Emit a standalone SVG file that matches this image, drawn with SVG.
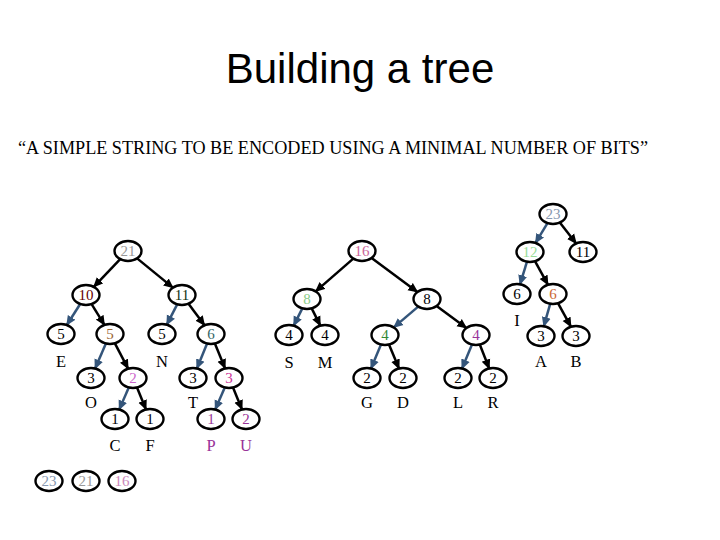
<svg xmlns="http://www.w3.org/2000/svg" width="720" height="540" viewBox="0 0 720 540">
<style>
.n ellipse{fill:#fff;stroke:#000;stroke-width:2.4}
.n text{font-family:"Liberation Serif","Times New Roman",serif;font-size:15px;text-anchor:middle}
.n text.lab{font-size:16.5px;fill:#000}
.k{stroke:#000;stroke-width:2.5;fill:none;marker-end:url(#ak)}
.b{stroke:#34557a;stroke-width:2.5;fill:none;marker-end:url(#ab)}
</style>
<defs>
<marker id="ak" markerUnits="userSpaceOnUse" markerWidth="10" markerHeight="10" viewBox="0 0 10 10" refX="9" refY="5" orient="auto"><path d="M0,0.5 L10,5 L0,9.5 z" fill="#000"/></marker>
<marker id="ab" markerUnits="userSpaceOnUse" markerWidth="10" markerHeight="10" viewBox="0 0 10 10" refX="9" refY="5" orient="auto"><path d="M0,0.5 L10,5 L0,9.5 z" fill="#34557a"/></marker>
</defs>
<rect width="720" height="540" fill="#fff"/>
<text x="360" y="83" font-family="Liberation Sans, Arial, sans-serif" font-size="42" text-anchor="middle">Building a tree</text>
<text x="18" y="154" font-family="Liberation Serif, Times New Roman, serif" font-size="19" textLength="630" lengthAdjust="spacingAndGlyphs">“A SIMPLE STRING TO BE ENCODED USING A MINIMAL NUMBER OF BITS”</text>
<g id="connectors">
<line class="b" x1="547.5" y1="223.1" x2="535.5" y2="242.9"/>
<line class="k" x1="559.8" y1="222.6" x2="576.2" y2="243.4"/>
<line class="k" x1="120.2" y1="259.2" x2="93.8" y2="286.8"/>
<line class="k" x1="137.1" y1="258.4" x2="172.9" y2="287.6"/>
<line class="k" x1="353.3" y1="258.6" x2="315.7" y2="291.4"/>
<line class="k" x1="371.6" y1="258.1" x2="417.4" y2="291.9"/>
<line class="b" x1="527" y1="261.7" x2="520" y2="284.3"/>
<line class="k" x1="535.1" y1="261.3" x2="547.9" y2="284.7"/>
<line class="b" x1="80.2" y1="304" x2="66.8" y2="325"/>
<line class="k" x1="91.6" y1="304.1" x2="104.4" y2="324.9"/>
<line class="b" x1="177.2" y1="304.4" x2="166.8" y2="324.6"/>
<line class="k" x1="188.5" y1="303.8" x2="204.5" y2="325.2"/>
<line class="b" x1="302.3" y1="308.4" x2="293.7" y2="325.6"/>
<line class="k" x1="311.7" y1="308.4" x2="320.3" y2="325.6"/>
<line class="b" x1="418.2" y1="306.6" x2="393.8" y2="327.4"/>
<line class="k" x1="436.6" y1="306" x2="466.4" y2="328"/>
<line class="b" x1="550.2" y1="303.8" x2="543.8" y2="326.2"/>
<line class="k" x1="558.1" y1="303.3" x2="570.9" y2="326.7"/>
<line class="b" x1="105.9" y1="343.5" x2="95.1" y2="368.5"/>
<line class="k" x1="114.9" y1="343.3" x2="128.1" y2="368.7"/>
<line class="b" x1="207.1" y1="343.6" x2="196.9" y2="368.4"/>
<line class="k" x1="214.9" y1="343.6" x2="225.1" y2="368.4"/>
<line class="b" x1="381" y1="344.5" x2="371" y2="368.5"/>
<line class="k" x1="389" y1="344.5" x2="399" y2="368.5"/>
<line class="b" x1="472" y1="344.5" x2="462" y2="368.5"/>
<line class="k" x1="479.8" y1="344.5" x2="489.2" y2="368.5"/>
<line class="b" x1="128.8" y1="387.5" x2="119.2" y2="409.5"/>
<line class="k" x1="137" y1="387.6" x2="146" y2="409.4"/>
<line class="b" x1="224.8" y1="387.5" x2="215.2" y2="409.5"/>
<line class="k" x1="233" y1="387.6" x2="242" y2="409.4"/>
</g>
<g id="n23" class="n"><ellipse cx="553" cy="214" rx="13.5" ry="10"/><text x="553" y="219" fill="#8898b0">23</text></g>
<g id="n21" class="n"><ellipse cx="128" cy="251" rx="13.5" ry="10"/><text x="128" y="256" fill="#999">21</text></g>
<g id="n16" class="n"><ellipse cx="362" cy="251" rx="13.5" ry="10"/><text x="362" y="256" fill="#cc6699">16</text></g>
<g id="n12" class="n"><ellipse cx="530" cy="252" rx="13.5" ry="10"/><text x="530" y="257" fill="#99dd99">12</text></g>
<g id="n11r" class="n"><ellipse cx="583" cy="252" rx="13.5" ry="10"/><text x="583" y="257" fill="#000">11</text></g>
<g id="n10" class="n"><ellipse cx="86" cy="295" rx="13.5" ry="10"/><text x="86" y="300" fill="#660000">10</text></g>
<g id="n11" class="n"><ellipse cx="182" cy="295" rx="13.5" ry="10"/><text x="182" y="300" fill="#113311">11</text></g>
<g id="n8g" class="n"><ellipse cx="307" cy="299" rx="13.5" ry="10"/><text x="307" y="304" fill="#88cc88">8</text></g>
<g id="n8" class="n"><ellipse cx="427" cy="299" rx="13.5" ry="10"/><text x="427" y="304" fill="#000">8</text></g>
<g id="n6I" class="n"><ellipse cx="517" cy="294" rx="13.5" ry="10"/><text x="517" y="299" fill="#000">6</text><text class="lab" x="517" y="326">I</text></g>
<g id="n6o" class="n"><ellipse cx="553" cy="294" rx="13.5" ry="10"/><text x="553" y="299" fill="#cc6633">6</text></g>
<g id="n5E" class="n"><ellipse cx="61" cy="334" rx="13.5" ry="10"/><text x="61" y="339" fill="#000">5</text><text class="lab" x="61" y="367">E</text></g>
<g id="n5b" class="n"><ellipse cx="110" cy="334" rx="13.5" ry="10"/><text x="110" y="339" fill="#996633">5</text></g>
<g id="n5N" class="n"><ellipse cx="162" cy="334" rx="13.5" ry="10"/><text x="162" y="339" fill="#000">5</text><text class="lab" x="162" y="367">N</text></g>
<g id="n6t" class="n"><ellipse cx="211" cy="334" rx="13.5" ry="10"/><text x="211" y="339" fill="#336666">6</text></g>
<g id="n4S" class="n"><ellipse cx="289" cy="335" rx="13.5" ry="10"/><text x="289" y="340" fill="#000">4</text><text class="lab" x="289" y="368">S</text></g>
<g id="n4M" class="n"><ellipse cx="325" cy="335" rx="13.5" ry="10"/><text x="325" y="340" fill="#000">4</text><text class="lab" x="325" y="368">M</text></g>
<g id="n4g" class="n"><ellipse cx="385" cy="335" rx="13.5" ry="10"/><text x="385" y="340" fill="#338833">4</text></g>
<g id="n4p" class="n"><ellipse cx="476" cy="335" rx="13.5" ry="10"/><text x="476" y="340" fill="#993399">4</text></g>
<g id="n3A" class="n"><ellipse cx="541" cy="336" rx="13.5" ry="10"/><text x="541" y="341" fill="#000">3</text><text class="lab" x="541" y="367">A</text></g>
<g id="n3B" class="n"><ellipse cx="576" cy="336" rx="13.5" ry="10"/><text x="576" y="341" fill="#000">3</text><text class="lab" x="576" y="367">B</text></g>
<g id="n3O" class="n"><ellipse cx="91" cy="378" rx="13.5" ry="10"/><text x="91" y="383" fill="#000">3</text><text class="lab" x="91" y="408">O</text></g>
<g id="n2p" class="n"><ellipse cx="133" cy="378" rx="13.5" ry="10"/><text x="133" y="383" fill="#cc66cc">2</text></g>
<g id="n3T" class="n"><ellipse cx="193" cy="378" rx="13.5" ry="10"/><text x="193" y="383" fill="#000">3</text><text class="lab" x="193" y="408">T</text></g>
<g id="n3m" class="n"><ellipse cx="229" cy="378" rx="13.5" ry="10"/><text x="229" y="383" fill="#cc3399">3</text></g>
<g id="n2G" class="n"><ellipse cx="367" cy="378" rx="13.5" ry="10"/><text x="367" y="383" fill="#000">2</text><text class="lab" x="367" y="408">G</text></g>
<g id="n2D" class="n"><ellipse cx="403" cy="378" rx="13.5" ry="10"/><text x="403" y="383" fill="#000">2</text><text class="lab" x="403" y="408">D</text></g>
<g id="n2L" class="n"><ellipse cx="458" cy="378" rx="13.5" ry="10"/><text x="458" y="383" fill="#000">2</text><text class="lab" x="458" y="408">L</text></g>
<g id="n2R" class="n"><ellipse cx="493" cy="378" rx="13.5" ry="10"/><text x="493" y="383" fill="#000">2</text><text class="lab" x="493" y="408">R</text></g>
<g id="n1C" class="n"><ellipse cx="115" cy="419" rx="13.5" ry="10"/><text x="115" y="424" fill="#000">1</text><text class="lab" x="115" y="451">C</text></g>
<g id="n1F" class="n"><ellipse cx="150" cy="419" rx="13.5" ry="10"/><text x="150" y="424" fill="#000">1</text><text class="lab" x="150" y="451">F</text></g>
<g id="n1P" class="n"><ellipse cx="211" cy="419" rx="13.5" ry="10"/><text x="211" y="424" fill="#993399">1</text><text class="lab" x="211" y="451" style="fill:#993399">P</text></g>
<g id="n2U" class="n"><ellipse cx="246" cy="419" rx="13.5" ry="10"/><text x="246" y="424" fill="#993399">2</text><text class="lab" x="246" y="451" style="fill:#993399">U</text></g>
<g id="q23" class="n"><ellipse cx="49" cy="481" rx="13.5" ry="10"/><text x="49" y="486" fill="#8898b0">23</text></g>
<g id="q21" class="n"><ellipse cx="86" cy="481" rx="13.5" ry="10"/><text x="86" y="486" fill="#999">21</text></g>
<g id="q16" class="n"><ellipse cx="122" cy="481" rx="13.5" ry="10"/><text x="122" y="486" fill="#cc88bb">16</text></g>
</svg>
